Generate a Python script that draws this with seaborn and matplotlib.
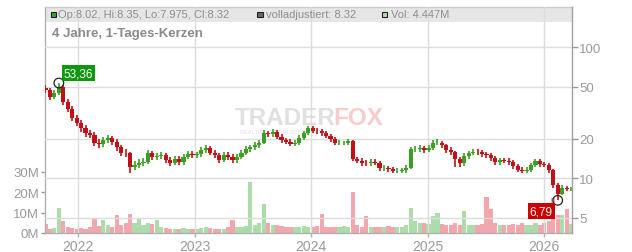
import matplotlib
matplotlib.use("Agg")
import matplotlib.pyplot as plt
import matplotlib.ticker as mticker
from matplotlib.patches import Rectangle
import numpy as np
import pandas as pd
import seaborn as sns

# ---------------- data (two-week candles) ----------------
first_open = 49.0
closes = [47, 42, 45, 50, 38, 34, 29, 26.5, 24, 22,
          21.5, 18.6, 18.2, 19.5, 20.2, 19, 17.2, 15.7, 15.5, 12.2,
          12.7, 13.2, 13.4, 15.5, 14.5, 14.8, 15.1, 13.9, 13.2, 14.1,
          13.3, 14.6, 15.4, 15.0, 15.2, 16.4, 16.9, 15.7, 15.0, 13.9,
          15.1, 14.5, 13.7, 14.6, 15.7, 16.6, 17.2, 17.8, 18.7, 22.1,
          21.6, 22.5, 20.8, 19.5, 19.0, 18.4, 18.6, 20.4, 22.2, 24.0,
          23.0, 22.8, 22.0, 21.0, 19.8, 18.6, 18.6, 18.6, 19.2, 14.0,
          13.6, 13.1, 13.0, 13.3, 13.2, 11.9, 12.0, 11.7, 11.4, 11.4,
          11.5, 12.0, 16.6, 16.6, 17.0, 16.4, 17.0, 18.6, 18.6, 17.8,
          16.5, 15.8, 14.0, 13.0, 14.8, 15.5, 15.9, 15.8, 15.2, 15.0,
          14.2, 13.3, 13.8, 13.6, 13.3, 12.4, 11.6, 11.4, 11.6, 12.6,
          13.5, 12.8, 12.6, 11.6, 8.9, 7.6, 8.5, 8.3, 8.32]
highs = [52, 49, 47, 53.36, 51.5, 40, 35.5, 30.5, 28, 25.5,
         23.5, 22.5, 19.8, 20.6, 21.3, 21.2, 19.8, 18, 16.6, 16,
         13.5, 14, 14.2, 16.4, 16.2, 15.7, 16, 15.6, 14.5, 14.9,
         14.7, 15.4, 16.2, 16.1, 16, 17.3, 17.9, 17.6, 16.5, 15.6,
         15.9, 15.8, 15.2, 15.4, 16.5, 17.5, 18.1, 18.8, 19.7, 23.2,
         23.1, 23.6, 23.2, 21.6, 20.3, 19.8, 19.5, 21.3, 23.1, 25,
         25, 24, 23.7, 22.8, 21.8, 20.5, 19.5, 19.4, 20, 19.5,
         14.6, 14.2, 13.8, 14, 14, 13.5, 12.6, 12.5, 12.2, 11.9,
         12, 12.6, 17.3, 17.5, 17.9, 17.7, 17.9, 19.6, 19.8, 19.3,
         18.4, 17.2, 16.3, 14.5, 15.6, 16.3, 16.8, 16.7, 16.4, 15.9,
         15.6, 14.7, 14.4, 14.4, 14.2, 13.7, 12.8, 12.1, 12.1, 13.2,
         14.1, 14, 13.3, 13, 11.8, 9.2, 8.9, 8.8, 8.6]
lows = [44.5, 39.5, 40, 43, 36, 32, 27.5, 25, 22.5, 20.8,
        20.2, 17.5, 17.1, 17.2, 18.6, 18, 16.3, 14.9, 14.6, 10.9,
        11.5, 12, 12.5, 12.9, 13.7, 13.8, 14.1, 13.1, 12.5, 12.6,
        12.6, 12.7, 14, 14.3, 14.3, 14.6, 15.6, 15, 14.2, 13.1,
        13.3, 13.8, 13, 13.1, 14, 15, 16, 16.5, 17.1, 18.2,
        20.7, 20.8, 19.9, 18.7, 18.2, 17.6, 17.6, 18, 19.7, 21.5,
        22.1, 21.9, 21.1, 20.2, 19, 17.9, 17.8, 17.8, 17.9, 13.5,
        13, 12.5, 12.4, 12.5, 12.6, 11.4, 11.4, 11.2, 10.9, 10.9,
        10.9, 11, 11.8, 15.8, 15.9, 15.7, 15.8, 16.5, 17.8, 17,
        15.6, 15, 12.1, 12.3, 12.5, 14.1, 15, 15.1, 14.5, 14.3,
        13.5, 12.7, 12.7, 13, 12.7, 11.8, 11.1, 10.9, 10.9, 11.2,
        12.2, 12.3, 12.1, 11, 8.4, 6.79, 7.4, 8, 7.975]
volumes_m = [4.5, 2, 2.5, 12.2, 6, 3, 2.5, 2, 2.5, 2,
             3, 7.2, 3.5, 6.2, 4, 3, 8.8, 4, 5, 9.2,
             5, 7.5, 4, 5, 4.5, 6.2, 3, 2.5, 2, 2,
             2, 2.5, 2, 2, 2, 2.5, 3, 2.5, 2, 2,
             2, 3, 6.2, 3, 3, 3.5, 25, 4, 5, 14,
             5, 4, 4, 3.5, 3, 3, 3, 3, 3.5, 3,
             3, 3.5, 9.2, 3, 3, 3, 3, 3.5, 3, 20,
             4, 3, 8.5, 3, 3, 3, 3, 3.5, 3, 3,
             3, 4, 12.5, 6, 5, 5, 4.5, 8.5, 10, 4.5,
             4, 4, 5, 4, 11, 4, 4, 4, 4.5, 17.8,
             11.6, 5, 4, 4, 4, 4.5, 4, 5, 4, 4,
             5, 4, 5, 6, 17, 9, 9, 12, 4.447]
start_date, end_date = "2021-09-20", "2026-03-27"
price_ticks = [5, 10, 20, 50, 100]
vol_ticks = [0, 10, 20, 30]
year_ticks = ["2022", "2023", "2024", "2025", "2026"]
title = "4 Jahre, 1-Tages-Kerzen"
legend_items = ["Op:8.02, Hi:8.35, Lo:7.975, Cl:8.32", "volladjustiert: 8.32", "Vol: 4.447M"]
max_label, min_label = "53,36", "6,79"

# ---------------- figure ----------------
sns.set_theme(style="white")
plt.rcParams["font.family"] = ["Liberation Sans", "DejaVu Sans"]

W, H = 632, 253
fig = plt.figure(figsize=(W / 100, H / 100), dpi=100)
L, R, T, B = 45, 572, 8.3, 234.0
ax = fig.add_axes([L / W, 1 - B / H, (R - L) / W, (B - T) / H])
axp = ax.twinx()

df = pd.DataFrame({
    "date": pd.date_range(start_date, end_date, periods=len(closes)),
    "close": closes, "high": highs, "low": lows, "vol": volumes_m,
})
df["open"] = [first_open] + closes[:-1]
df["up"] = df["close"] >= df["open"]

GREEN, RED = "#3c9e22", "#c01018"
VGREEN, VRED = "#acdcaa", "#f2a6ae"
GRID = "#dcdcdc"
TXT = "#9a9a9a"

# legend band (behind everything)
ax.add_patch(Rectangle((0, (B - 22.5) / (B - T)), 1, 1 - (B - 22.5) / (B - T),
                       transform=ax.transAxes, facecolor="#e6e6e6", edgecolor="none", zorder=0))

# watermark (on bottom axes so it stays under candles)
ax.text(235 / W, 1 - 125 / H, "TRADER", transform=fig.transFigure, fontsize=17.5,
        fontweight="bold", color="#e0e0e0", ha="left", va="baseline", zorder=0.5)
ax.text(333 / W, 1 - 125 / H, "FOX", transform=fig.transFigure, fontsize=17.5,
        fontweight="bold", color="#f9cbcb", ha="left", va="baseline", zorder=0.5)
ax.text(240 / W, 1 - 132 / H, "REALTIME STOCK SCREENING", transform=fig.transFigure,
        fontsize=4.0, fontweight="bold", color="#eaeaea", ha="left", va="center", zorder=0.5)

# volume bars
ax.bar(df["date"], df["vol"], width=13, color=np.where(df["up"], VGREEN, VRED),
       linewidth=0, zorder=1)
ax.set_ylim(0, (B - T) / 20.4 * 10)
ax.set_yticks(vol_ticks)
ax.set_yticklabels([f"{v}M" for v in vol_ticks])

# price candles
axp.set_yscale("log")
p_top = 100 * 10 ** ((48.3 - T) / 131.0)
p_bot = 10 * 10 ** (-(B - 179.3) / 131.0)
axp.set_ylim(p_bot, p_top)
for y in price_ticks:
    axp.axhline(y, color=GRID, lw=1, zorder=0)
for yr in year_ticks:
    axp.axvline(pd.Timestamp(f"{yr}-01-01"), color=GRID, lw=1, zorder=0)

col = np.where(df["up"], GREEN, RED)
axp.vlines(df["date"], df["low"], df["high"], colors=col, lw=1.2, zorder=2)
body_lo = np.minimum(df["open"], df["close"])
body_hi = np.maximum(df["open"], df["close"])
axp.bar(df["date"], body_hi - body_lo, bottom=body_lo, width=13, color=col,
        linewidth=0, zorder=3)

axp.set_yticks(price_ticks)
axp.yaxis.set_major_formatter(mticker.FuncFormatter(lambda v, p: f"{v:g}"))
axp.yaxis.set_minor_locator(mticker.NullLocator())

ax.set_xlim(pd.Timestamp("2021-09-18 12:00"), pd.Timestamp("2026-03-29 22:00"))
ax.set_xticks([pd.Timestamp(f"{y}-01-01") for y in year_ticks])
ax.set_xticklabels(year_ticks)

# extremes
imax = int(np.argmax(df["high"]))
imin = int(np.argmin(df["low"]))
sns.scatterplot(x=[df["date"][imax], df["date"][imin]], y=[df["high"][imax], df["low"][imin]],
                ax=axp, s=48, facecolors="none", edgecolors="#222222", linewidths=0.9,
                zorder=5, legend=False)
axp.annotate(max_label, xy=(df["date"][imax], df["high"][imax]), xytext=(5, 10),
             textcoords="offset pixels", ha="left", va="center", color="white", fontsize=8.5,
             bbox=dict(boxstyle="square,pad=0.16", fc="#0d980d", ec="none"), zorder=6)
axp.annotate(min_label, xy=(df["date"][imin], df["low"][imin]), xytext=(-5, -11),
             textcoords="offset pixels", ha="right", va="center", color="white", fontsize=8.5,
             bbox=dict(boxstyle="square,pad=0.16", fc="#cc0000", ec="none"), zorder=6)

# spines and ticks
for s in ["top", "left", "right", "bottom"]:
    axp.spines[s].set_visible(False)
    ax.spines[s].set_visible(True)
ax.spines["right"].set_visible(False)
axp.spines["right"].set_visible(True)
axp.spines["right"].set_color("#a0a0a0")
ax.spines["left"].set_color("#b0b0b0")
ax.spines["bottom"].set_color("#b0b0b0")
ax.spines["top"].set_color("#cccccc")
for a in (ax, axp):
    for s in a.spines.values():
        s.set_linewidth(1)
ax.tick_params(axis="y", left=True, length=3, width=1, color="#999999", labelcolor=TXT,
               labelsize=9.5, pad=1)
ax.tick_params(axis="x", bottom=True, length=3, width=1, color="#b0b0b0", labelcolor=TXT,
               labelsize=10, pad=1.5)
axp.tick_params(axis="y", right=True, length=4, width=1, color="#999999", labelcolor=TXT,
                labelsize=9.5, pad=1)
ax.grid(False)
axp.grid(False)

# header texts
fig.text(52 / W, 1 - 33.5 / H, title, fontsize=9.5, fontweight="bold", color="#8a8a8a",
         ha="left", va="center")
ty = 1 - 15.3 / H
sq = [(50.7, "#33a532"), (257.3, "#666666"), (381.7, "#b2deb0")]
tx = [57.8, 266.0, 391.0]
for (sx, sc), x0, label in zip(sq, tx, legend_items):
    fig.add_artist(Rectangle((sx / W, 1 - 18.3 / H), 5.6 / W, 5.8 / H,
                             transform=fig.transFigure, facecolor=sc, edgecolor="#222222",
                             linewidth=0.8))
    fig.text(x0 / W, ty, label, fontsize=8.0, color="#8e8e8e", ha="left", va="center")

fig.savefig("out.png", dpi=100)
